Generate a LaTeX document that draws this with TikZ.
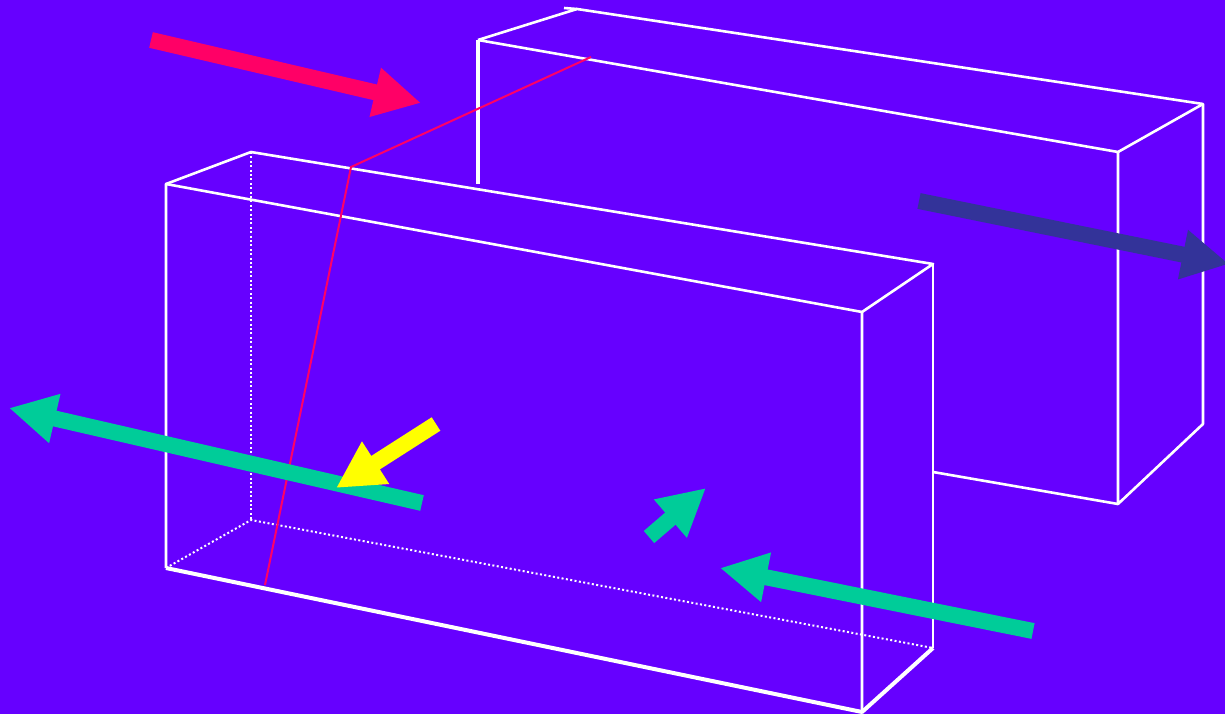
\documentclass[tikz,border=0pt]{standalone}
\usepackage{xcolor}
\usetikzlibrary{arrows.meta}
\definecolor{bgviolet}{RGB}{102,0,255}
\definecolor{beamred}{RGB}{255,0,102}
\definecolor{beamnavy}{RGB}{51,51,153}
\definecolor{beamgreen}{RGB}{0,204,153}
\definecolor{beamyellow}{RGB}{255,255,0}
\begin{document}
\begin{tikzpicture}[
  x=1pt, y=-1pt,
  edge/.style={draw=white, line width=2.6pt, line join=round},
  heavyedge/.style={draw=white, line width=4pt, line join=round},
  hidden/.style={draw=white, line width=2pt, dash pattern=on 2pt off 2.4pt},
  ray/.style={draw=beamred, line width=2pt},
  bigarr/.style={line width=16pt, -{Triangle[length=47pt,width=47pt]}},
]
\useasboundingbox (0,0) rectangle (1225,714);
\fill[bgviolet] (0,0) rectangle (1225,714);

% rear box
\coordinate (RA) at (478,40);
\coordinate (RB) at (1118,152);
\coordinate (RC) at (1118,504);
\coordinate (RD) at (1203,424);
\coordinate (RE) at (1203,104);
\coordinate (RF) at (577,9);
\coordinate (RG) at (478,184);
\coordinate (RH) at (933,472);
\coordinate (RT) at (564,8);

\draw[edge] (RA) -- (RB) -- (RC) -- (RD) -- (RE) -- (RF) -- (RA);
\draw[edge, line width=3.2pt] (RG) -- (RA);
\draw[edge] (RB) -- (RE);
\draw[edge] (RH) -- (RC);
\draw[edge] (RT) -- (RF);

% front box
\coordinate (FA) at (166,184);
\coordinate (FB) at (862,312);
\coordinate (FC) at (862,712);
\coordinate (FD) at (166,568);
\coordinate (FE) at (251,152);
\coordinate (FF) at (933,264);
\coordinate (FG) at (933,648);
\coordinate (FH) at (251,520);

\draw[hidden] (FE) -- (FH);
\draw[hidden] (FD) -- (FH) -- (FG);
\draw[edge] (FD) -- (FA) -- (FB) -- (FC);
\draw[edge] (FA) -- (FE) -- (FF) -- (FB);
\draw[edge] (FF) -- (FG);
\draw[heavyedge] (FD) -- (FC) -- (FG);

% refracted ray
\coordinate (rayin) at (591,57);
\coordinate (raybend) at (351,167);
\coordinate (rayout) at (265,585);
\draw[ray] (rayin) -- (raybend) -- (rayout);

% arrows
\coordinate (redtail) at (151,40);
\coordinate (redtip) at (421,103);
\coordinate (navytail) at (919,201);
\coordinate (navytip) at (1229,264);
\coordinate (longtail) at (422,503);
\coordinate (longtip) at (9,408);
\coordinate (lowtail) at (1033,631);
\coordinate (lowtip) at (720,568);
\coordinate (shorttail) at (649,537);
\coordinate (shorttip) at (706,488);
\coordinate (yellowtail) at (436,424);
\coordinate (yellowtip) at (336,488);

\draw[bigarr, beamred] (redtail) -- (redtip);
\draw[bigarr, beamnavy] (navytail) -- (navytip);
\draw[bigarr, beamgreen] (longtail) -- (longtip);
\draw[bigarr, beamgreen] (lowtail) -- (lowtip);
\draw[bigarr, beamgreen] (shorttail) -- (shorttip);
\draw[bigarr, beamyellow] (yellowtail) -- (yellowtip);
\end{tikzpicture}
\end{document}
